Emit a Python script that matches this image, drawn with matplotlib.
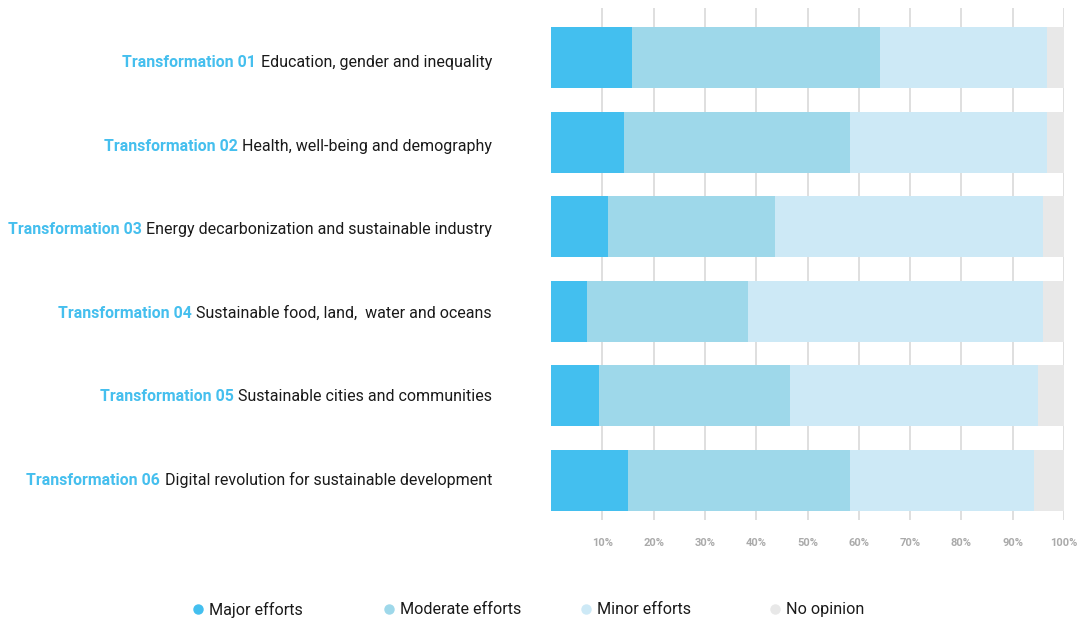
from matplotlib import pyplot as plt
from matplotlib.lines import Line2D
from matplotlib.transforms import blended_transform_factory
import numpy as np

plt.rcParams['font.family'] = ['Roboto', 'DejaVu Sans']

codes = ['Transformation 01', 'Transformation 02', 'Transformation 03',
         'Transformation 04', 'Transformation 05', 'Transformation 06']
titles = ['Education, gender and inequality',
          'Health, well-being and demography',
          'Energy decarbonization and sustainable industry',
          'Sustainable food, land,  water and oceans',
          'Sustainable cities and communities',
          'Digital revolution for sustainable development']

# shares in percent, each row sums to 100
major = np.array([15.7, 14.3, 11.2, 7.1, 9.3, 15.1])
moderate = np.array([48.4, 44.0, 32.4, 31.3, 37.3, 43.2])
minor = np.array([32.6, 38.4, 52.4, 57.6, 48.4, 35.9])
no_opinion = 100 - major - moderate - minor

series = [major, moderate, minor, no_opinion]
series_names = ['Major efforts', 'Moderate efforts', 'Minor efforts', 'No opinion']
colors = ['#43bfef', '#9ed8ea', '#cde9f6', '#e8e8e8']
accent = '#45bfee'

fig = plt.figure(figsize=(10.81, 6.18), dpi=100)
ax = fig.add_axes([551 / 1081, (618 - 520) / 618, 513 / 1081, 512 / 618])

y = np.arange(len(codes))
left = np.zeros(len(codes))
for vals, col in zip(series, colors):
    ax.barh(y, vals, left=left, height=0.72, color=col, linewidth=0, zorder=2)
    left += vals

ax.set_xlim(0, 100)
ax.set_ylim(5.467, -0.585)
ax.set_xticks(np.arange(10, 101, 10))
ax.set_xticklabels([f'{v}%' for v in range(10, 101, 10)],
                   fontsize=8, fontweight='bold', color='#aaaaaa')
ax.set_yticks([])
ax.tick_params(axis='x', length=0, pad=13)
ax.grid(axis='x', color='#d9d9d9', linewidth=1.2, zorder=0)
ax.set_axisbelow(True)
for s in ax.spines.values():
    s.set_visible(False)

# row labels: blue bold code followed by black title, right-aligned
trans = blended_transform_factory(ax.transAxes, ax.transData)
label_y = y * 0.988 + 0.06
for i in range(len(codes)):
    t = ax.text(-59 / 513, label_y[i], titles[i], transform=trans, ha='right',
                va='center', fontsize=11.55, color='#1a1a1a')
    ax.annotate(codes[i], xy=(0, 0), xycoords=t, xytext=(-3.2, 0),
                textcoords='offset points', ha='right', va='bottom',
                fontsize=11.4, fontweight='bold', color=accent)

# legend along the bottom
legend_x = [198, 389, 586, 775]
for lx, name, col in zip(legend_x, series_names, colors):
    fig.add_artist(Line2D([lx / 1081], [1 - 609 / 618], marker='o',
                          markersize=6.5, color=col, linestyle='none',
                          transform=fig.transFigure))
    fig.text((lx + 11) / 1081, 1 - 609.5 / 618, name, ha='left', va='center',
             fontsize=11.6, color='#1a1a1a')

fig.savefig('out.png', dpi=100)
